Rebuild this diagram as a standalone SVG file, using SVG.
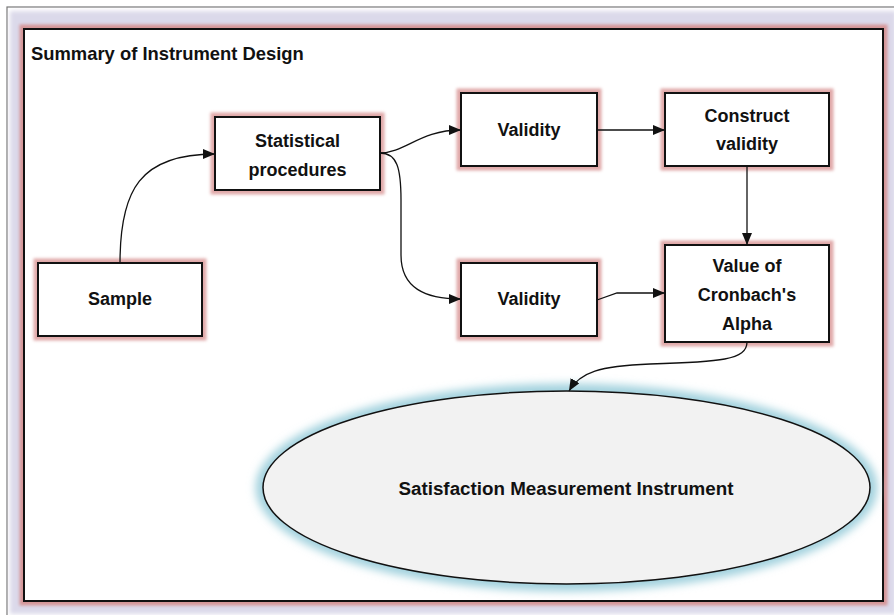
<svg xmlns="http://www.w3.org/2000/svg" width="894" height="615" viewBox="0 0 894 615">
<defs>
<style>
text{font-family:"Liberation Sans",Arial,sans-serif;font-weight:bold;font-size:18px;fill:#111}
.c{text-anchor:middle}
.box{fill:#fff;stroke:#111;stroke-width:2}
.glow{fill:none;stroke:#e0a8a8;stroke-width:9;filter:url(#blur2)}
.edge{fill:none;stroke:#111;stroke-width:1.3}
</style>
<filter id="blur2" x="-20%" y="-20%" width="140%" height="140%"><feGaussianBlur stdDeviation="1.8"/></filter>
<filter id="blur4" x="-10%" y="-10%" width="120%" height="120%"><feGaussianBlur stdDeviation="2"/></filter>
<filter id="blurE" x="-10%" y="-20%" width="120%" height="140%"><feGaussianBlur stdDeviation="4"/></filter>
<marker id="arr" viewBox="0 0 12 10" refX="12" refY="5" markerWidth="12" markerHeight="10" markerUnits="userSpaceOnUse" orient="auto">
<path d="M0,0 L12,5 L0,10 Z" fill="#111"/>
</marker>
</defs>
<rect width="894" height="615" fill="#fff"/>
<!-- outer frame -->
<g id="frame">
<rect x="7" y="7" width="900" height="620" fill="#fff" stroke="#777" stroke-width="1.2"/>
<rect x="10" y="11" width="886" height="603" fill="#dbd9ea" filter="url(#blur4)"/>
<rect x="24" y="29" width="859" height="572" fill="none" stroke="#d69597" stroke-width="9" filter="url(#blur2)"/>
<rect x="24" y="29" width="859" height="572" fill="#fff" stroke="#111" stroke-width="2"/>
<text x="31" y="60" style="font-size:18.4px">Summary of Instrument Design</text>
</g>
<g id="n-stat">
<rect class="glow" x="215" y="117" width="165" height="73"/>
<rect class="box" x="215" y="117" width="165" height="73"/>
<text class="c" x="297.5" y="147">Statistical</text>
<text class="c" x="297.5" y="176">procedures</text>
</g>
<g id="n-valid1">
<rect class="glow" x="461" y="93" width="136" height="73"/>
<rect class="box" x="461" y="93" width="136" height="73"/>
<text class="c" x="529" y="136">Validity</text>
</g>
<g id="n-construct">
<rect class="glow" x="665" y="93" width="164" height="73"/>
<rect class="box" x="665" y="93" width="164" height="73"/>
<text class="c" x="747" y="122">Construct</text>
<text class="c" x="747" y="150">validity</text>
</g>
<g id="n-sample">
<rect class="glow" x="38" y="263" width="164" height="73"/>
<rect class="box" x="38" y="263" width="164" height="73"/>
<text class="c" x="120" y="305">Sample</text>
</g>
<g id="n-valid2">
<rect class="glow" x="461" y="263" width="136" height="73"/>
<rect class="box" x="461" y="263" width="136" height="73"/>
<text class="c" x="529" y="305">Validity</text>
</g>
<g id="n-alpha">
<rect class="glow" x="665" y="245" width="164" height="97"/>
<rect class="box" x="665" y="245" width="164" height="97"/>
<text class="c" x="747" y="272">Value of</text>
<text class="c" x="747" y="301">Cronbach's</text>
<text class="c" x="747" y="330">Alpha</text>
</g>
<g id="n-instrument">
<ellipse cx="566.5" cy="487.5" rx="311" ry="104" fill="#a3d2de" filter="url(#blurE)"/>
<ellipse cx="566.5" cy="487.5" rx="303.5" ry="96.5" fill="#f2f2f2" stroke="#111" stroke-width="1.5"/>
<text class="c" x="566" y="495" style="font-size:18.8px">Satisfaction Measurement Instrument</text>
</g>
<g id="connectors">
<path class="edge" marker-end="url(#arr)" d="M120,263 C120,190 140,154 215,154"/>
<path class="edge" marker-end="url(#arr)" d="M380,153 C405,153 420,130 461,130"/>
<path class="edge" marker-end="url(#arr)" d="M380,153 C397,153 401,168 401,200 L401,255 C401,288 425,299 461,299"/>
<path class="edge" marker-end="url(#arr)" d="M597,130 L665,130"/>
<path class="edge" marker-end="url(#arr)" d="M747,166 L747,245"/>
<path class="edge" marker-end="url(#arr)" d="M597,300 L617,293 L665,293"/>
<path class="edge" marker-end="url(#arr)" d="M747,342 C747,360 720,362 650,364 C600,366 580,372 569,391"/>
</g>
</svg>
